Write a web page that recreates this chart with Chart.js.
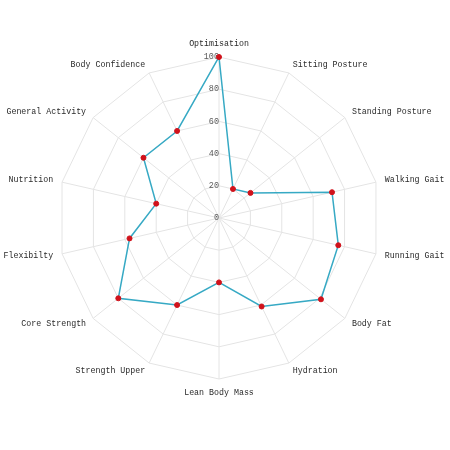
<!DOCTYPE html>
<html>
<head>
<meta charset="utf-8">
<script src="https://cdn.jsdelivr.net/npm/chart.js@4/dist/chart.umd.min.js"></script>
<style>
  html, body { margin: 0; padding: 0; background: #fff; }
  #wrap { width: 450px; height: 450px; }
</style>
</head>
<body>
<div id="wrap"><canvas id="myChart"></canvas></div>
<script>
const categories = ['Optimisation', 'Sitting Posture', 'Standing Posture', 'Walking Gait',
    'Running Gait', 'Body Fat', 'Hydration', 'Lean Body Mass', 'Strength Upper',
    'Core Strength', 'Flexibilty', 'Nutrition', 'General Activity', 'Body Confidence'];
const scores = [100, 20, 25, 72, 76, 81, 61, 40, 60, 80, 57, 40, 60, 60];
const tickValues = [0, 20, 40, 60, 80, 100];

const labelFont = '8.3px "Liberation Mono"';

// point labels placed the old way: side labels centred on their spoke,
// top one sitting above it, bottom one hanging below it
const pointLabelPlugin = {
    id: 'sideLabels',
    afterDraw(chart) {
        const scale = chart.scales.r;
        const c = chart.ctx;
        const n = categories.length;
        c.save();
        c.font = labelFont;
        c.fillStyle = '#2a2a2a';
        c.textBaseline = 'middle';
        categories.forEach((label, i) => {
            const pos = scale.getPointPosition(i, scale.drawingArea + 9);
            let y = pos.y;
            if (i === 0) {
                c.textAlign = 'center';
                y -= 4.5;
            } else if (i === n / 2) {
                c.textAlign = 'center';
                y += 4.5;
            } else {
                c.textAlign = i < n / 2 ? 'left' : 'right';
            }
            c.fillText(label, pos.x, y);
        });
        c.restore();
    }
};

const ctx = document.getElementById('myChart').getContext('2d');
const myChart = new Chart(ctx, {
    type: 'radar',
    data: {
        labels: categories,
        datasets: [{
            label: 'Score',
            data: scores,
            borderColor: '#36a9c4',
            backgroundColor: 'rgba(0,0,0,0)',
            borderWidth: 1.5,
            fill: false,
            tension: 0,
            pointBackgroundColor: '#d0121b',
            pointBorderColor: '#d0121b',
            pointRadius: 2.5,
            pointBorderWidth: 1
        }]
    },
    options: {
        responsive: true,
        maintainAspectRatio: false,
        animation: false,
        layout: { padding: { top: 50, bottom: 64, left: 51, right: 63 } },
        plugins: {
            legend: { display: false },
            tooltip: { enabled: false }
        },
        scales: {
            r: {
                // a hair below zero so the "0" tick label is still drawn
                min: -0.001,
                max: 100,
                afterBuildTicks: function(scale) {
                    scale.ticks = tickValues.map(v => ({ value: v }));
                },
                ticks: {
                    showLabelBackdrop: false,
                    color: '#5a5a5a',
                    font: { family: 'Liberation Mono', size: 8.5 },
                    // pad with spaces so the number sits left of the axis
                    callback: function(v) { return v + ' '.repeat(String(v).length); }
                },
                grid: { color: '#e4e4e4', lineWidth: 1 },
                angleLines: { color: '#e4e4e4', lineWidth: 1 },
                pointLabels: { display: false }
            }
        }
    },
    plugins: [pointLabelPlugin]
});
</script>
</body>
</html>
